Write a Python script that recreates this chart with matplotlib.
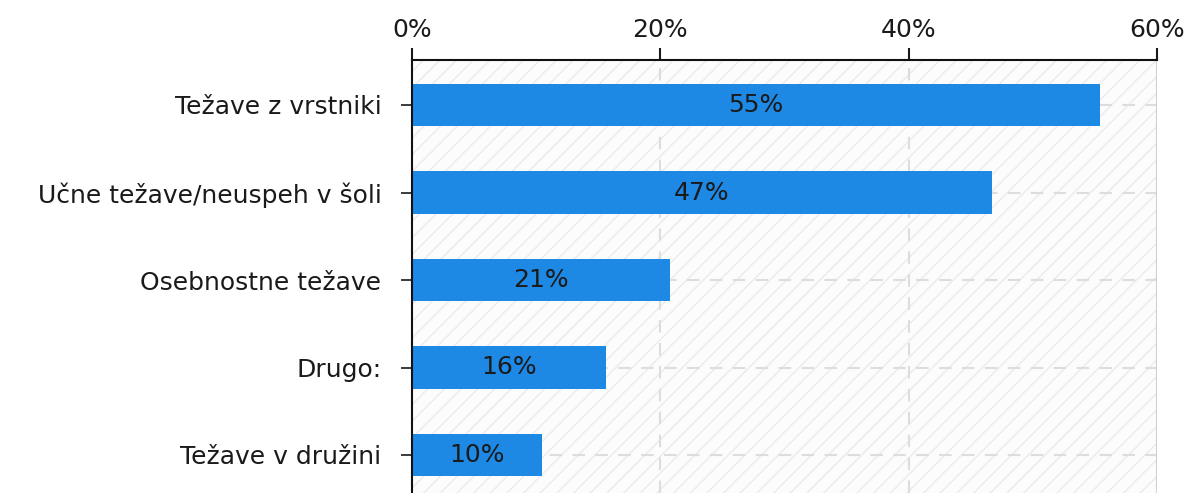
import matplotlib
matplotlib.use('Agg')
import matplotlib.pyplot as plt
from matplotlib.patches import Rectangle
from matplotlib.ticker import FuncFormatter

categories = ['Težave z vrstniki', 'Učne težave/neuspeh v šoli', 'Osebnostne težave',
              'Drugo:', 'Težave v družini']
values = [55.4, 46.7, 20.8, 15.6, 10.5]
labels = ['55%', '47%', '21%', '16%', '10%']
xticks = [0, 20, 40, 60]

plt.rcParams['font.family'] = ['DejaVu Sans']
text_col = '#1a1a1a'
fs = 18

fig = plt.figure(figsize=(11.88, 4.93), dpi=100)
ax = fig.add_axes([412 / 1188, 0.0, (1157 - 412) / 1188, 1 - 60 / 493])

ypos = list(range(len(categories)))
ax.set_xlim(0, 60)
ax.set_ylim(4 + 38 / 87.5, -45 / 87.5)

# hatched background
bg = Rectangle((0, 0), 1, 1, transform=ax.transAxes, facecolor='#fcfcfc',
               edgecolor='#ebebeb', hatch='//', linewidth=0, zorder=0)
ax.add_patch(bg)

# dashed grid
for x in xticks[1:-1]:
    ax.axvline(x, color='#dddddd', lw=1.5, ls=(0, (6, 5)), zorder=1)
for y in ypos:
    ax.axhline(y, color='#dddddd', lw=1.5, ls=(0, (6, 5)), zorder=1)
ax.axvline(60, color='#d0d0d0', lw=1.5, zorder=1)

bars = ax.barh(ypos, values, height=0.49, color='#1e88e5', zorder=2)
for b, lab in zip(bars, labels):
    ax.text(b.get_width() / 2, b.get_y() + b.get_height() / 2, lab,
            ha='center', va='center', fontsize=fs, color=text_col, zorder=3)

ax.xaxis.tick_top()
ax.set_xticks(xticks)
ax.xaxis.set_major_formatter(FuncFormatter(lambda v, p: f'{int(v)}%'))
ax.set_yticks(ypos)
ax.set_yticklabels(categories)
ax.tick_params(axis='x', length=9, width=1.5, pad=4, labelsize=fs, colors=text_col)
ax.tick_params(axis='y', length=8, width=1.2, pad=14, labelsize=fs, colors=text_col)

for side in ['right', 'bottom']:
    ax.spines[side].set_visible(False)
for side in ['top', 'left']:
    ax.spines[side].set_linewidth(1.5)
    ax.spines[side].set_color('#111111')
    ax.spines[side].set_zorder(4)

fig.savefig('out.png', dpi=100)
